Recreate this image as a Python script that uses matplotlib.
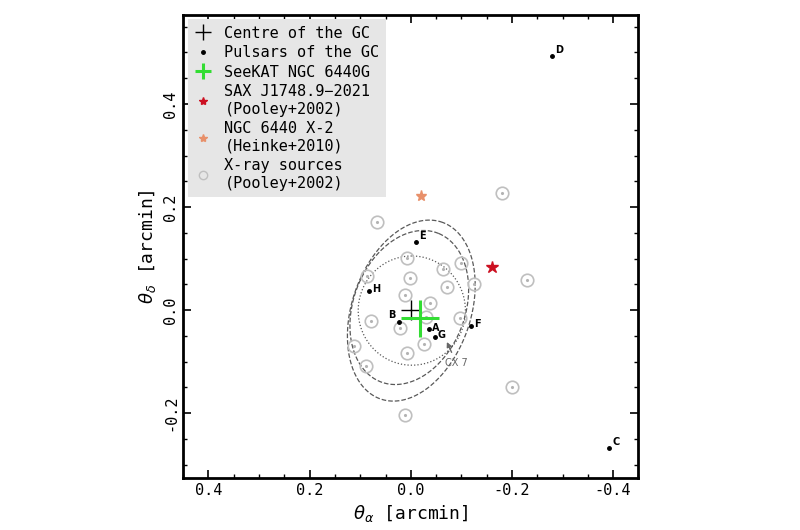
import numpy as np
import matplotlib
matplotlib.use("Agg")
import matplotlib.pyplot as plt
from matplotlib.ticker import MultipleLocator
from matplotlib.lines import Line2D

plt.rcParams['font.family'] = 'DejaVu Sans Mono'
plt.rcParams['axes.unicode_minus'] = False

# positions in arcmin (ra offset, dec offset)
centre = (0.0, 0.0)
seekat = (-0.018, -0.016)
seekat_err = (0.038, 0.036)
psr_names = ['A', 'B', 'C', 'D', 'E', 'F', 'G', 'H']
psr_x = [-0.036, 0.024, -0.392, -0.279, -0.011, -0.120, -0.047, 0.083]
psr_y = [-0.037, -0.023, -0.268, 0.493, 0.132, -0.030, -0.052, 0.037]
sax = (-0.160, 0.083)
x2 = (-0.020, 0.221)
xray_x = [-0.180, 0.066, 0.007, -0.099, -0.063, -0.229, 0.002, 0.086, -0.071, -0.125, 0.012,
          -0.038, -0.031, -0.098, 0.079, 0.022, -0.026, 0.113, 0.007, 0.089, -0.201, 0.012]
xray_y = [0.227, 0.171, 0.102, 0.091, 0.079, 0.058, 0.063, 0.066, 0.045, 0.050, 0.030,
          0.013, -0.013, -0.015, -0.021, -0.034, -0.066, -0.069, -0.084, -0.108, -0.150, -0.204]

# beam ellipses: centre x, centre y, semi-major, semi-minor, tilt from vertical (deg), style
beams = [(-0.002, -0.001, 0.106, 0.106, 0, ':'),
         (0.003, 0.005, 0.155, 0.110, 22, '--'),
         (-0.001, -0.001, 0.182, 0.117, 20, '--')]

fig = plt.figure(figsize=(8, 5.3), dpi=100)
ax = fig.add_axes([0.229, 0.098, 0.569, 0.874])

t = np.linspace(0, 2 * np.pi, 300)
for cx, cy, a, b, ang, ls in beams:
    th = np.radians(ang)
    u = np.array([-np.sin(th), np.cos(th)])
    v = np.array([np.cos(th), np.sin(th)])
    px = cx + a * np.cos(t) * u[0] + b * np.sin(t) * v[0]
    py = cy + a * np.cos(t) * u[1] + b * np.sin(t) * v[1]
    ax.plot(px, py, ls=ls, color='0.35', lw=0.9)

ax.plot(xray_x, xray_y, marker='o', mfc='none', mec='0.75', ms=9, mew=1.2, ls='none')
ax.plot(xray_x, xray_y, marker='.', color='0.7', ms=2.5, ls='none')
ax.plot(*centre, marker='+', color='k', ms=14, mew=1, ls='none')
ax.plot(psr_x, psr_y, 'k.', ms=5)
ax.errorbar(*seekat, xerr=seekat_err[0], yerr=seekat_err[1], color='#33dd33', lw=2.2, ls='none')
ax.plot(*sax, marker='*', color='#cc1122', ms=9, ls='none')
ax.plot(*x2, marker='*', color='#e8906a', ms=8, ls='none')

for n, x, y in zip(psr_names, psr_x, psr_y):
    if n == 'B':
        ax.text(x + 0.006, y + 0.003, n, fontsize=7, fontweight='bold', family='DejaVu Sans',
                ha='right', va='bottom')
    else:
        ax.text(x - 0.006, y + 0.003, n, fontsize=7, fontweight='bold', family='DejaVu Sans',
                ha='left', va='bottom' if n in 'CDE' else 'center')

ax.annotate('CX 7', xy=(-0.069, -0.057), xytext=(-0.090, -0.102), fontsize=7, color='0.4',
            family='DejaVu Sans', ha='center', va='center',
            arrowprops=dict(arrowstyle='-|>', color='0.4', lw=1))

handles = [Line2D([], [], marker='+', color='k', ms=12, mew=1, ls='none'),
           Line2D([], [], marker='.', color='k', ms=5, ls='none'),
           Line2D([], [], marker='+', color='#33dd33', ms=12, mew=2.2, ls='none'),
           Line2D([], [], marker='*', color='#cc1122', ms=6, ls='none'),
           Line2D([], [], marker='*', color='#e8906a', ms=6, ls='none'),
           Line2D([], [], marker='o', mfc='none', mec='0.75', ms=6, mew=1, ls='none')]
labels = ['Centre of the GC', 'Pulsars of the GC', 'SeeKAT NGC 6440G',
          'SAX J1748.9\u22122021\n(Pooley+2002)', 'NGC 6440 X-2\n(Heinke+2010)',
          'X-ray sources\n(Pooley+2002)']

ax.set_xlim(0.45, -0.45)
ax.set_ylim(-0.326, 0.573)
ax.xaxis.set_major_locator(MultipleLocator(0.2))
ax.yaxis.set_major_locator(MultipleLocator(0.2))
ax.xaxis.set_minor_locator(MultipleLocator(0.05))
ax.yaxis.set_minor_locator(MultipleLocator(0.05))
ax.tick_params(which='both', direction='in', top=True, right=True, labelsize=11)
ax.tick_params(which='major', length=6, width=1.2)
ax.tick_params(which='minor', length=3, width=1)
for lab in ax.get_yticklabels():
    lab.set_rotation(90)
    lab.set_va('center')
for s in ax.spines.values():
    s.set_linewidth(2)
ax.set_xlabel(r'$\theta_\alpha$ [arcmin]', fontsize=13)
ax.set_ylabel(r'$\theta_\delta$ [arcmin]', fontsize=13)

ax.legend(handles, labels, loc='upper left', fontsize=11, frameon=True, fancybox=False,
          facecolor='#e6e6e6', edgecolor='none', framealpha=1, handlelength=1.2,
          handletextpad=0.8, borderaxespad=0.3, labelspacing=0.3)

fig.savefig('out.png', dpi=100)
